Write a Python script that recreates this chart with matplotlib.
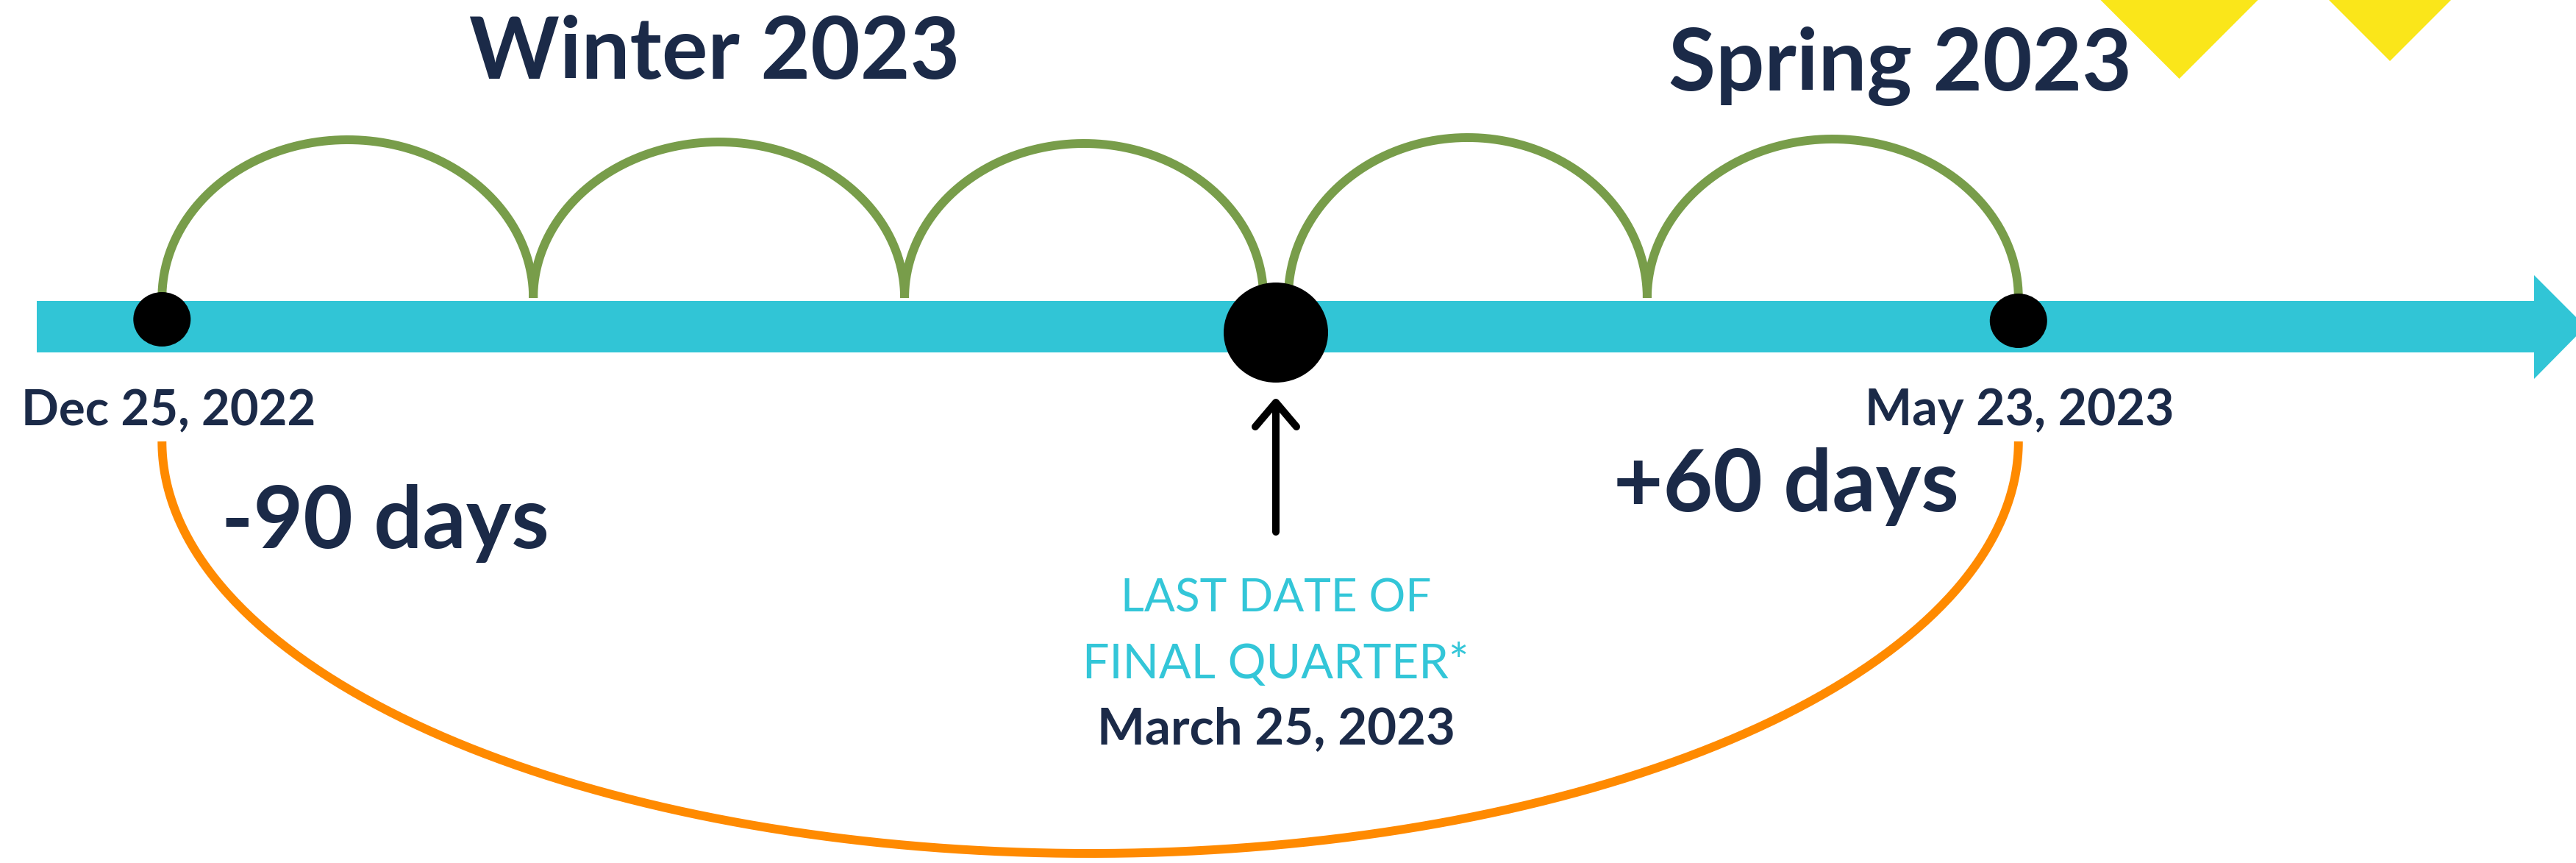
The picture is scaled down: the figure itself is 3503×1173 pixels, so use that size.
import numpy as np
import matplotlib
matplotlib.use("Agg")
import matplotlib.pyplot as plt
from matplotlib.patches import Polygon, Ellipse

# ---------------- data ----------------
key_days = [-90, 0, 60]                      # days relative to March 25, 2023
key_labels = ["Dec 25, 2022", "March 25, 2023", "May 23, 2023"]
hop_starts = [-90, -60, -30, 1, 30]          # monthly hops (green arcs)
hop_ends = [-60, -30, -1, 30, 60]
hop_heights = [215, 212, 210, 218, 216]
span_start = -90                             # orange span
span_end = 60
span_labels = ["-90 days", "+60 days"]
season_labels = ["Winter 2023", "Spring 2023"]
marker_caption = ["LAST DATE OF", "FINAL QUARTER*"]

# ---------------- layout ----------------
W, H = 3503, 1173
PX_PER_DAY = 16.83
ORIGIN_PX = 1735


def px2day(px):
    return (px - ORIGIN_PX) / PX_PER_DAY


NAVY = "#1B2A48"
CYAN = "#31C5D6"
GREEN = "#789D4A"
ORANGE = "#FF8A00"
YELLOW = "#FAE61A"

fig = plt.figure(figsize=(W / 100, H / 100), dpi=100)
ax = fig.add_axes([0, 0, 1, 1])
ax.set_xlim(px2day(0), px2day(W))
ax.set_ylim(H, 0)
ax.axis("off")

# yellow decorative triangles (top right)
for left, right, tip_y in [(2856, 3071, 107), (3166, 3334, 83)]:
    half = (right - left) / 2
    cx = (left + right) / 2
    top = tip_y - half - 10
    ax.add_patch(Polygon([(px2day(cx - half - 10), top), (px2day(cx + half + 10), top),
                          (px2day(cx), tip_y)], closed=True, facecolor=YELLOW,
                         edgecolor="none", zorder=1))

# timeline bar with arrow head
bar_top, bar_bot, head_top, head_bot = 409, 479, 374, 515
x0, x1, xt = px2day(50), px2day(3446), px2day(3516)
ax.add_patch(Polygon([(x0, bar_top), (x1, bar_top), (x1, head_top), (xt, (bar_top + bar_bot) / 2),
                      (x1, head_bot), (x1, bar_bot), (x0, bar_bot)], closed=True,
                     facecolor=CYAN, edgecolor="none", zorder=2))

# green monthly hops
t = np.linspace(0, np.pi, 300)
for s, e, h in zip(hop_starts, hop_ends, hop_heights):
    cx, rx = (s + e) / 2, (e - s) / 2
    ax.plot(cx + rx * np.cos(t), 405 - h * np.sin(t), color=GREEN, lw=8.6,
            solid_capstyle="butt", zorder=3)

# orange span arc below
cx, rx = (span_start + span_end) / 2, (span_end - span_start) / 2
ax.plot(cx + rx * np.cos(t), 600 + 560 * np.sin(t), color=ORANGE, lw=8.6,
        solid_capstyle="butt", zorder=3)

# dots on the timeline
dot_geom = [(434, 78, 74), (452, 142, 136), (436, 78, 74)]
for d, (yc, w, hh) in zip(key_days, dot_geom):
    ax.add_patch(Ellipse((d, yc), w / PX_PER_DAY, hh, facecolor="black",
                         edgecolor="none", zorder=4))

# black pointer arrow under the middle date
mid = key_days[1]
ax.plot([mid, mid], [723, 549], color="black", lw=7.2, solid_capstyle="round", zorder=4)
ax.plot([mid - 28 / PX_PER_DAY, mid, mid + 28 / PX_PER_DAY], [580, 547, 580], color="black",
        lw=7.2, solid_capstyle="round", solid_joinstyle="round", zorder=4)

# ---------------- texts ----------------
texts = []


def add_text(s, x, y, width, color, weight):
    tx = ax.text(x, y, s, ha="center", va="baseline", color=color, fontsize=60,
                 family=["Lato", "DejaVu Sans"], fontweight=weight, zorder=5)
    texts.append((tx, width))


add_text(season_labels[0], px2day(972), 107, 648, NAVY, "bold")
add_text(season_labels[1], px2day(2584), 123, 612, NAVY, "bold")
add_text(key_labels[0], key_days[0] + px2day(232) - px2day(223), 578, 389, NAVY, "bold")
add_text(key_labels[2], key_days[2] + px2day(2749) - px2day(2748), 578, 408, NAVY, "bold")
add_text(span_labels[0], px2day(524), 745, 433, NAVY, "bold")
add_text(span_labels[1], px2day(2429), 695, 456, NAVY, "bold")
add_text(marker_caption[0], mid, 831, 411, "#33C6D8", "normal")
add_text(marker_caption[1], mid, 922, 510, "#33C6D8", "normal")
add_text(key_labels[1], mid, 1011, 473, NAVY, "bold")

fig.canvas.draw()
renderer = fig.canvas.get_renderer()
for tx, width in texts:
    bb = tx.get_window_extent(renderer)
    tx.set_fontsize(tx.get_fontsize() * width / bb.width * 1.03)

fig.savefig("out.png", dpi=100, facecolor="white")
